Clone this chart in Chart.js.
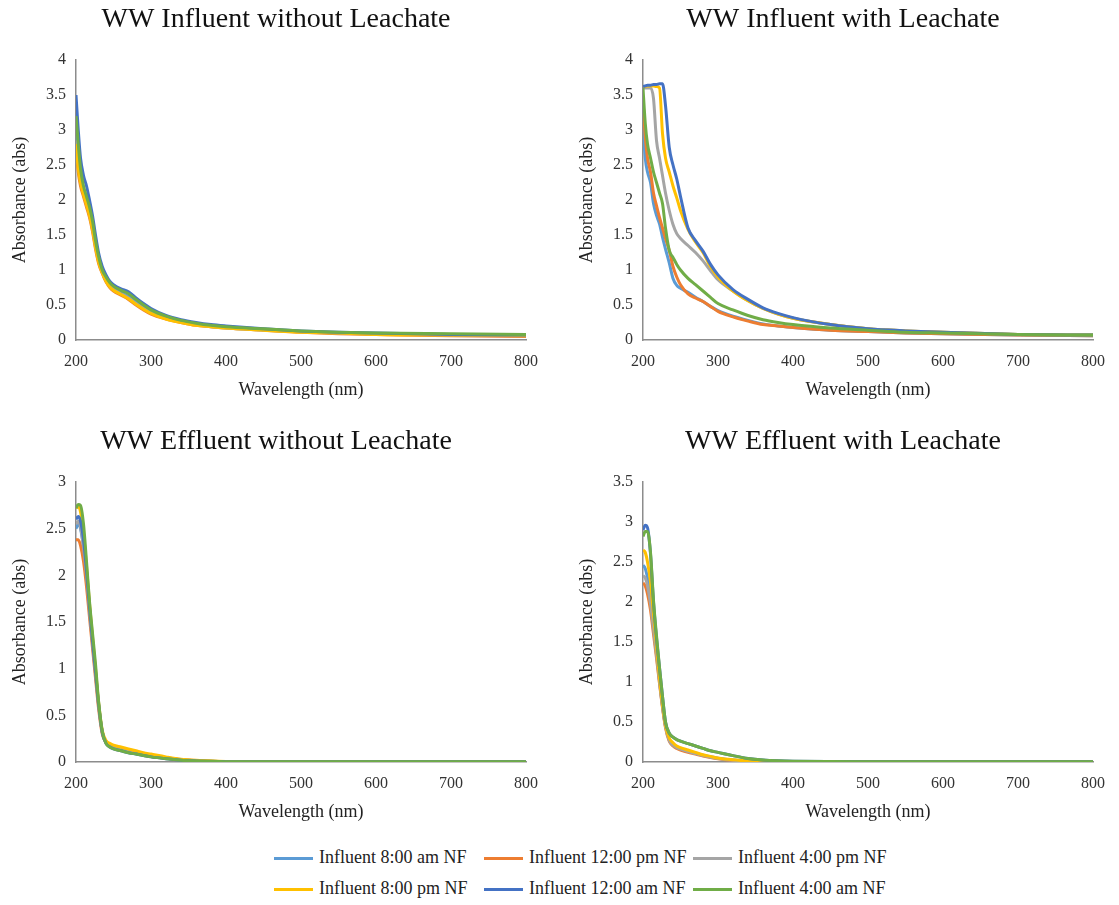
<!DOCTYPE html>
<html>
<head>
<meta charset="utf-8">
<script src="https://cdn.jsdelivr.net/npm/chart.js@4"></script>
<style>
  body { margin: 0; background: #fff; width: 1119px; height: 905px; position: relative; overflow: hidden; }
  canvas { position: absolute; }
  .legend { position: absolute; font-family: "Liberation Serif", serif; font-size: 18px; color: #222; }
  .item { position: absolute; white-space: nowrap; height: 20px; line-height: 20px; }
  .item span.line { display: inline-block; width: 39px; height: 3px; vertical-align: middle; margin-right: 6px; }
</style>
</head>
<body>
<canvas id="c1" width="550" height="410" style="left:0px;top:0px"></canvas>
<canvas id="c2" width="550" height="410" style="left:567px;top:0px"></canvas>
<canvas id="c3" width="550" height="410" style="left:0px;top:422px"></canvas>
<canvas id="c4" width="550" height="410" style="left:567px;top:422px"></canvas>
<div class="legend" id="legend"></div>
<script>
const FONT = '"Liberation Serif", "Times New Roman", serif'

const seriesNames = ['Influent 8:00 am NF', 'Influent 12:00 pm NF', 'Influent 4:00 pm NF',
                     'Influent 8:00 pm NF', 'Influent 12:00 am NF', 'Influent 4:00 am NF']
const seriesColors = ['#5B9BD5', '#ED7D31', '#A5A5A5', '#FFC000', '#4472C4', '#70AD47']

const wavelengths = [200, 203, 206, 210, 214, 218, 222, 226, 230, 235, 240, 245, 250, 260, 270, 280, 290, 300,
                     320, 340, 360, 380, 400, 450, 500, 550, 600, 700, 800]
const xTicks = [200, 300, 400, 500, 600, 700, 800]

// WW Influent without Leachate
const infNoLeach8am  = [2.95, 2.6, 2.35, 2.15, 2.0, 1.85, 1.65, 1.4, 1.2, 1.0, 0.88, 0.8, 0.74, 0.68, 0.62, 0.54, 0.46, 0.4, 0.32, 0.27, 0.23, 0.2, 0.18, 0.15, 0.12, 0.1, 0.09, 0.07, 0.06]
const infNoLeach12pm = [2.75, 2.4, 2.2, 2.05, 1.9, 1.75, 1.55, 1.3, 1.1, 0.95, 0.83, 0.75, 0.7, 0.64, 0.58, 0.5, 0.43, 0.37, 0.3, 0.25, 0.21, 0.19, 0.17, 0.14, 0.11, 0.09, 0.08, 0.06, 0.05]
const infNoLeach4pm  = [2.85, 2.5, 2.28, 2.1, 1.95, 1.8, 1.6, 1.35, 1.15, 0.97, 0.85, 0.77, 0.72, 0.66, 0.6, 0.52, 0.45, 0.39, 0.31, 0.26, 0.22, 0.19, 0.17, 0.14, 0.12, 0.1, 0.09, 0.07, 0.06]
const infNoLeach8pm  = [2.8, 2.45, 2.25, 2.08, 1.93, 1.78, 1.58, 1.33, 1.12, 0.96, 0.84, 0.76, 0.71, 0.65, 0.59, 0.51, 0.44, 0.38, 0.3, 0.25, 0.21, 0.19, 0.17, 0.14, 0.11, 0.1, 0.08, 0.07, 0.06]
const infNoLeach12am = [3.5, 3.0, 2.6, 2.35, 2.2, 2.0, 1.78, 1.5, 1.25, 1.05, 0.93, 0.84, 0.79, 0.73, 0.69, 0.6, 0.52, 0.45, 0.35, 0.29, 0.25, 0.22, 0.2, 0.16, 0.13, 0.11, 0.1, 0.08, 0.07]
const infNoLeach4am  = [3.2, 2.8, 2.45, 2.2, 2.05, 1.9, 1.7, 1.42, 1.2, 1.0, 0.9, 0.82, 0.77, 0.71, 0.66, 0.58, 0.5, 0.43, 0.34, 0.28, 0.24, 0.21, 0.19, 0.16, 0.13, 0.11, 0.1, 0.09, 0.08]

// WW Influent with Leachate
const infLeach8am  = [3.05, 2.6, 2.4, 2.25, 1.95, 1.78, 1.66, 1.47, 1.3, 1.1, 0.88, 0.78, 0.74, 0.68, 0.61, 0.55, 0.48, 0.42, 0.34, 0.28, 0.23, 0.2, 0.18, 0.14, 0.12, 0.1, 0.09, 0.07, 0.06]
const infLeach12pm = [3.45, 2.9, 2.6, 2.4, 2.1, 1.92, 1.75, 1.6, 1.45, 1.28, 1.05, 0.9, 0.79, 0.66, 0.6, 0.55, 0.48, 0.41, 0.33, 0.27, 0.22, 0.2, 0.18, 0.14, 0.12, 0.1, 0.09, 0.07, 0.06]
const infLeach4pm  = [3.6, 3.6, 3.6, 3.6, 3.45, 2.85, 2.6, 2.35, 2.1, 1.85, 1.65, 1.52, 1.45, 1.35, 1.25, 1.13, 0.99, 0.86, 0.7, 0.56, 0.45, 0.37, 0.31, 0.22, 0.16, 0.13, 0.11, 0.08, 0.07]
const infLeach8pm  = [3.62, 3.62, 3.63, 3.63, 3.63, 3.62, 3.6, 2.95, 2.6, 2.4, 2.2, 2.03, 1.85, 1.58, 1.4, 1.25, 1.05, 0.9, 0.7, 0.56, 0.45, 0.37, 0.31, 0.22, 0.16, 0.13, 0.11, 0.08, 0.07]
const infLeach12am = [3.62, 3.63, 3.64, 3.64, 3.65, 3.65, 3.66, 3.66, 3.35, 2.75, 2.5, 2.3, 2.05, 1.6, 1.42, 1.27, 1.08, 0.93, 0.72, 0.58, 0.46, 0.38, 0.32, 0.22, 0.16, 0.13, 0.11, 0.08, 0.07]
const infLeach4am  = [3.6, 3.1, 2.8, 2.6, 2.4, 2.25, 2.1, 1.95, 1.6, 1.28, 1.18, 1.08, 1.0, 0.88, 0.79, 0.7, 0.61, 0.52, 0.43, 0.35, 0.29, 0.25, 0.22, 0.17, 0.14, 0.11, 0.1, 0.08, 0.07]

// WW Effluent without Leachate
const effNoLeach8am  = [2.5, 2.55, 2.5, 2.3, 2.0, 1.62, 1.28, 0.95, 0.62, 0.32, 0.21, 0.17, 0.15, 0.13, 0.11, 0.09, 0.075, 0.06, 0.04, 0.025, 0.015, 0.008, 0.005, 0.003, 0.002, 0.002, 0.001, 0.001, 0.001]
const effNoLeach12pm = [2.38, 2.38, 2.32, 2.15, 1.88, 1.55, 1.22, 0.9, 0.58, 0.3, 0.21, 0.18, 0.16, 0.14, 0.12, 0.1, 0.085, 0.07, 0.045, 0.028, 0.016, 0.009, 0.005, 0.003, 0.002, 0.002, 0.001, 0.001, 0.001]
const effNoLeach4pm  = [2.55, 2.58, 2.52, 2.3, 2.0, 1.62, 1.28, 0.95, 0.62, 0.32, 0.21, 0.17, 0.15, 0.13, 0.11, 0.09, 0.075, 0.06, 0.04, 0.025, 0.015, 0.008, 0.005, 0.003, 0.002, 0.002, 0.001, 0.001, 0.001]
const effNoLeach8pm  = [2.72, 2.74, 2.68, 2.45, 2.1, 1.7, 1.34, 1.0, 0.65, 0.34, 0.23, 0.2, 0.18, 0.16, 0.14, 0.12, 0.1, 0.085, 0.055, 0.03, 0.018, 0.01, 0.006, 0.003, 0.002, 0.002, 0.001, 0.001, 0.001]
const effNoLeach12am = [2.6, 2.63, 2.58, 2.38, 2.05, 1.66, 1.3, 0.97, 0.63, 0.32, 0.2, 0.16, 0.14, 0.12, 0.1, 0.085, 0.07, 0.055, 0.035, 0.02, 0.012, 0.006, 0.004, 0.002, 0.002, 0.002, 0.002, 0.002, 0.002]
const effNoLeach4am  = [2.72, 2.76, 2.75, 2.55, 2.15, 1.72, 1.38, 1.05, 0.66, 0.33, 0.2, 0.16, 0.14, 0.12, 0.1, 0.085, 0.07, 0.055, 0.035, 0.02, 0.012, 0.007, 0.004, 0.003, 0.003, 0.003, 0.003, 0.003, 0.003]

// WW Effluent with Leachate
const effLeach8am  = [2.46, 2.42, 2.3, 2.05, 1.72, 1.38, 1.02, 0.7, 0.45, 0.28, 0.22, 0.19, 0.17, 0.14, 0.11, 0.085, 0.065, 0.048, 0.026, 0.013, 0.006, 0.003, 0.002, 0.001, 0.001, 0.001, 0.001, 0.001, 0.001]
const effLeach12pm = [2.24, 2.2, 2.1, 1.9, 1.6, 1.3, 0.98, 0.68, 0.43, 0.26, 0.2, 0.17, 0.15, 0.12, 0.1, 0.075, 0.055, 0.04, 0.02, 0.01, 0.005, 0.003, 0.002, 0.001, 0.001, 0.001, 0.001, 0.001, 0.001]
const effLeach4pm  = [2.33, 2.3, 2.2, 1.98, 1.66, 1.34, 1.0, 0.69, 0.44, 0.27, 0.21, 0.18, 0.16, 0.13, 0.105, 0.08, 0.06, 0.045, 0.023, 0.011, 0.005, 0.003, 0.002, 0.001, 0.001, 0.001, 0.001, 0.001, 0.001]
const effLeach8pm  = [2.65, 2.62, 2.5, 2.25, 1.85, 1.45, 1.05, 0.72, 0.46, 0.3, 0.24, 0.2, 0.18, 0.15, 0.12, 0.09, 0.07, 0.05, 0.027, 0.013, 0.006, 0.003, 0.002, 0.001, 0.001, 0.001, 0.001, 0.001, 0.001]
const effLeach12am = [2.9, 2.96, 2.93, 2.6, 2.0, 1.55, 1.18, 0.82, 0.5, 0.36, 0.31, 0.28, 0.26, 0.23, 0.2, 0.17, 0.14, 0.12, 0.08, 0.045, 0.025, 0.015, 0.01, 0.005, 0.003, 0.002, 0.002, 0.002, 0.002]
const effLeach4am  = [2.82, 2.88, 2.88, 2.62, 2.02, 1.58, 1.18, 0.82, 0.5, 0.36, 0.31, 0.28, 0.26, 0.23, 0.2, 0.17, 0.14, 0.12, 0.08, 0.045, 0.025, 0.015, 0.01, 0.005, 0.003, 0.002, 0.002, 0.002, 0.002]

// nudge the chart title a little to the right, the way the original is placed
const titleShift = {
    id: 'titleShift',
    afterLayout(chart){
        const t = chart.titleBlock
        if(t){
            t.left += 10
            t.right += 10
        }
    }
}

function makePanel(id, title, yMax, series){
    const datasets = series.map((values, i) => ({
        label: seriesNames[i],
        data: values.map((v, j) => ({ x: wavelengths[j], y: v })),
        borderColor: seriesColors[i],
        backgroundColor: seriesColors[i],
        borderWidth: 3,
        pointRadius: 0,
        cubicInterpolationMode: 'monotone',
        order: series.length - i   // later series drawn on top, like Excel
    }))
    const tickFont = { family: FONT, size: 16 }
    const axisTitleFont = { family: FONT, size: 18 }
    const axisBorder = { display: true, color: '#8c8c8c', width: 1.5 }
    new Chart(document.getElementById(id), {
        type: 'line',
        data: { datasets },
        plugins: [titleShift],
        options: {
            responsive: false,
            animation: false,
            layout: { padding: { left: 0, right: 18, top: 0, bottom: 0 } },
            plugins: {
                legend: { display: false },
                tooltip: { enabled: false },
                title: {
                    display: true,
                    text: title,
                    color: '#111',
                    font: { family: FONT, size: 28, weight: 'normal' },
                    padding: { top: 3, bottom: 23.4 }
                }
            },
            scales: {
                x: {
                    type: 'linear',
                    min: 200,
                    max: 800,
                    afterBuildTicks: s => { s.ticks = xTicks.map(v => ({ value: v })) },
                    afterFit: s => { s.height = 70 },
                    ticks: { color: '#333', font: tickFont, padding: 12, maxRotation: 0, autoSkip: false },
                    grid: { display: false, drawTicks: false },
                    border: axisBorder,
                    title: { display: true, text: 'Wavelength (nm)', color: '#222', font: axisTitleFont, padding: { top: 0, bottom: 9 } }
                },
                y: {
                    min: 0,
                    max: yMax,
                    afterFit: s => { s.width = 76 },
                    ticks: { stepSize: 0.5, color: '#333', font: tickFont, padding: 10, callback: v => String(v) },
                    grid: { display: false, drawTicks: false },
                    border: axisBorder,
                    title: { display: true, text: 'Absorbance (abs)', color: '#222', font: axisTitleFont, padding: { top: 9, bottom: 0 } }
                }
            }
        }
    })
}

makePanel('c1', 'WW Influent without Leachate', 4,
    [infNoLeach8am, infNoLeach12pm, infNoLeach4pm, infNoLeach8pm, infNoLeach12am, infNoLeach4am])
makePanel('c2', 'WW Influent with Leachate', 4,
    [infLeach8am, infLeach12pm, infLeach4pm, infLeach8pm, infLeach12am, infLeach4am])
makePanel('c3', 'WW Effluent without Leachate', 3,
    [effNoLeach8am, effNoLeach12pm, effNoLeach4pm, effNoLeach8pm, effNoLeach12am, effNoLeach4am])
makePanel('c4', 'WW Effluent with Leachate', 3.5,
    [effLeach8am, effLeach12pm, effLeach4pm, effLeach8pm, effLeach12am, effLeach4am])

// legend: 3 columns x 2 rows under the panels
const legendCols = [274, 484, 693]
const legendRows = [847, 878]
const legend = document.getElementById('legend')
seriesNames.forEach((name, i) => {
    const item = document.createElement('div')
    item.className = 'item'
    item.style.left = legendCols[i % 3] + 'px'
    item.style.top = legendRows[Math.floor(i / 3)] + 'px'
    item.innerHTML = `<span class="line" style="background:${seriesColors[i]}"></span>${name}`
    legend.appendChild(item)
})
</script>
</body>
</html>
